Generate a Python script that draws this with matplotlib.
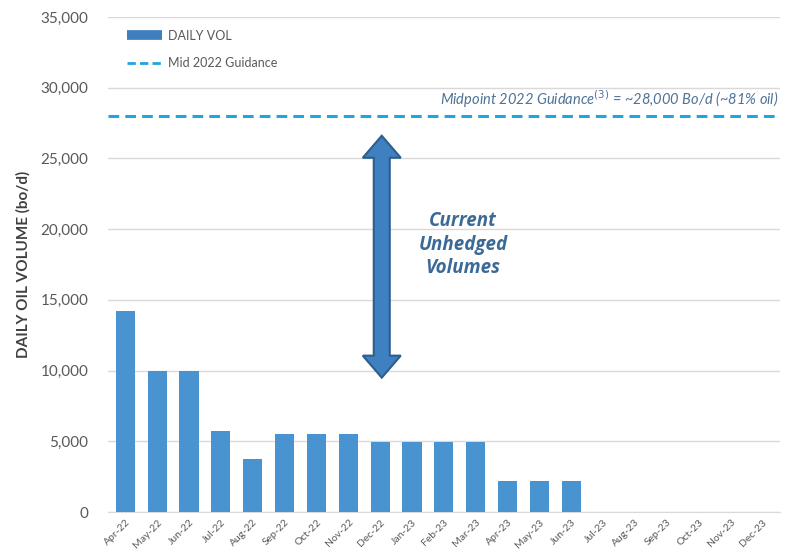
import matplotlib
matplotlib.use("Agg")
import matplotlib.pyplot as plt
from matplotlib.patches import Polygon
from matplotlib.lines import Line2D
from matplotlib.transforms import IdentityTransform
import numpy as np

months = ["Apr-22", "May-22", "Jun-22", "Jul-22", "Aug-22", "Sep-22", "Oct-22",
          "Nov-22", "Dec-22", "Jan-23", "Feb-23", "Mar-23", "Apr-23", "May-23",
          "Jun-23", "Jul-23", "Aug-23", "Sep-23", "Oct-23", "Nov-23", "Dec-23"]
daily_vol = [14200, 10000, 10000, 5700, 3750, 5500, 5500, 5500, 4950, 4950, 4950,
             4950, 2200, 2200, 2200, 0, 0, 0, 0, 0, 0]
guidance = 28000
y_ticks = [0, 5000, 10000, 15000, 20000, 25000, 30000, 35000]
arrow_bottom, arrow_top = 9500, 26600

plt.rcParams['font.family'] = ['Lato', 'DejaVu Sans']

fig = plt.figure(figsize=(7.87, 5.6), dpi=100)
ax = fig.add_axes([0.137, 0.0857, 0.854, 0.884])

x = np.arange(len(months))
ax.bar(x, daily_vol, width=0.6, color="#4A93D1", zorder=3)
ax.axhline(guidance, color="#1FA6DA", lw=2.2, ls=(0, (3.5, 2)), zorder=4)

ax.set_xlim(-0.55, len(months) - 0.45)
ax.set_ylim(0, 35000)
ax.set_yticks(y_ticks)
ax.set_yticklabels([f"{v:,}" for v in y_ticks], fontsize=11, color="#595959")
ax.set_xticks(x)
ax.set_xticklabels(months, rotation=45, ha="right", rotation_mode="anchor",
                   fontsize=7.5, color="#595959")
ax.tick_params(axis="y", length=0, pad=14)
ax.tick_params(axis="x", length=0, pad=4)
ax.grid(axis="y", color="#D9D9D9", lw=1, zorder=0)
for s in ["top", "right", "left"]:
    ax.spines[s].set_visible(False)
ax.spines["bottom"].set_color("#D9D9D9")
ax.set_ylabel("DAILY OIL VOLUME (bo/d)", fontsize=11, fontweight="bold",
              color="#404040", labelpad=7)

handles = [Line2D([], [], color="#3F7FBF", lw=7, solid_capstyle="butt"),
           Line2D([], [], color="#1FA6DA", lw=2, ls=(0, (3, 1.5)))]
ax.legend(handles, ["DAILY VOL", "Mid 2022 Guidance"], loc="upper left",
          bbox_to_anchor=(0.012, 0.997), frameon=False, fontsize=9,
          labelcolor="#595959", handlelength=2.8, labelspacing=1.25,
          handletextpad=0.5)

ax.text(len(months) - 0.5, guidance + 450,
        r"Midpoint 2022 Guidance$^{(3)}$ = ~28,000 Bo/d (~81% oil)",
        ha="right", va="bottom", fontsize=10.5, style="italic", color="#4E7396")

ax.text(10.6, 18900, "Current\nUnhedged\nVolumes", ha="center", va="center",
        fontsize=13.5, fontweight="bold", style="italic", color="#3B6A96",
        linespacing=1.25, family=["Open Sans", "DejaVu Sans"])

fig.canvas.draw()
cx, yb = ax.transData.transform((8.05, arrow_bottom))
_, yt = ax.transData.transform((8.05, arrow_top))
bw, hw, hl = 8, 19, 22
verts = [(cx, yt), (cx + hw, yt - hl), (cx + bw, yt - hl), (cx + bw, yb + hl),
         (cx + hw, yb + hl), (cx, yb), (cx - hw, yb + hl), (cx - bw, yb + hl),
         (cx - bw, yt - hl), (cx - hw, yt - hl)]
arrow = Polygon(verts, closed=True, transform=IdentityTransform(),
                facecolor="#3E80C0", edgecolor="#2E5E8C", lw=1.5, zorder=5)
ax.add_artist(arrow)

fig.savefig("out.png", dpi=100)
